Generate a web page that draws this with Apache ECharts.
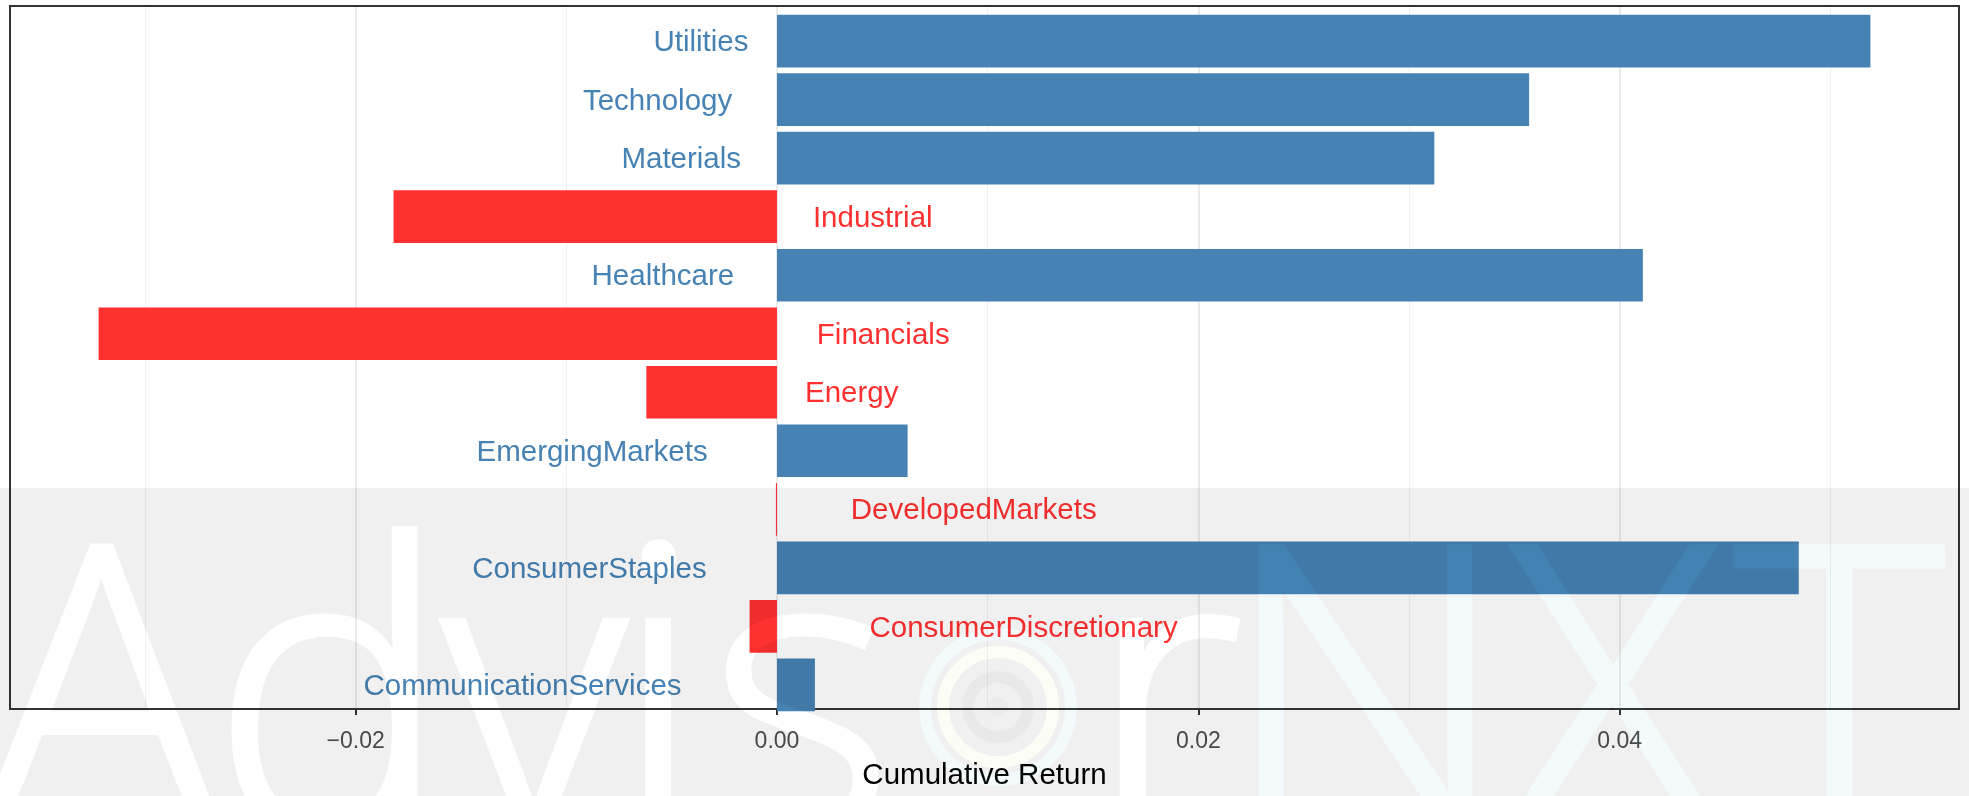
<!DOCTYPE html>
<html>
<head>
<meta charset="utf-8">
<script src="https://cdn.jsdelivr.net/npm/echarts@6/dist/echarts.min.js"></script>
<style>
html, body { margin: 0; padding: 0; background: #fff; }
#chart { width: 1969px; height: 796px; }
</style>
</head>
<body>
<div id="chart"></div>
<script>
// sectors, top to bottom
var sectors = ['Utilities', 'Technology', 'Materials', 'Industrial', 'Healthcare', 'Financials',
    'Energy', 'EmergingMarkets', 'DevelopedMarkets', 'ConsumerStaples', 'ConsumerDiscretionary',
    'CommunicationServices'];
var cumReturn = [0.0519, 0.0357, 0.0312, -0.0182, 0.0411, -0.0322,
    -0.0062, 0.0062, -0.00005, 0.0485, -0.0013, 0.0018];
var majorTicks = [-0.02, 0, 0.02, 0.04];
var minorTicks = [-0.03, -0.01, 0.01, 0.03, 0.05];
var xTitle = 'Cumulative Return';

var chartDom = document.getElementById('chart');
var myChart = echarts.init(chartDom);

var blue = '#4682B4';
var red = '#FF3030';
var labelFamily = '"Liberation Sans", Arial, sans-serif';

// ggplot style 5% expansion
var lo = Math.min(0, Math.min.apply(null, cumReturn));
var hi = Math.max(0, Math.max.apply(null, cumReturn));
var pad = (hi - lo) * 0.05;

// labels sit at hjust 1.3 from zero -> gap of 0.3 * text width
var ctx = document.createElement('canvas').getContext('2d');
ctx.font = '29.5px ' + labelFamily;
var barData = cumReturn.map(function (v, i) {
    var c = v >= 0 ? blue : red;
    return {
        value: v,
        itemStyle: { color: c },
        label: {
            position: v >= 0 ? 'left' : 'right',
            distance: 0.3 * ctx.measureText(sectors[i]).width,
            color: c
        }
    };
});

// panel 6..720, category band = 1/12.2 of it
var unit = 714 / 12.2;

// watermark: grey veil over the lower strip with the letters cut out of it
var bandTop = 488;
var markFont = '300 400px "Open Sans", sans-serif';
var baseY = 833 - bandTop;
// [glyph, ink centre x]
var plainGlyphs = [['A', 102], ['d', 324], ['v', 536], ['i', 660], ['s', 798], ['r', 1178]];
var tintGlyphs = [['N', 1365], ['X', 1611], ['T', 1841]];

function makeLayer() {
    var c = document.createElement('canvas');
    c.width = 1969;
    c.height = 796 - bandTop;
    var g = c.getContext('2d');
    g.font = markFont;
    g.textBaseline = 'alphabetic';
    g.lineWidth = 6;
    return { canvas: c, g: g };
}
function drawGlyphs(g, list) {
    list.forEach(function (t) {
        var m = g.measureText(t[0]);
        var x = t[1] - (m.actualBoundingBoxRight - m.actualBoundingBoxLeft) / 2;
        g.fillText(t[0], x, baseY);
        g.strokeText(t[0], x, baseY);
    });
}
function ring(g, r, width) {
    g.lineWidth = width;
    g.beginPath();
    g.arc(998, 707 - bandTop, r, 0, Math.PI * 2);
    g.stroke();
}

var veil = makeLayer();
var w = veil.g;
w.fillStyle = 'rgba(0,0,0,0.06)';
w.fillRect(0, 0, veil.canvas.width, veil.canvas.height);
w.globalCompositeOperation = 'destination-out';
w.fillStyle = '#000';
w.strokeStyle = '#000';
drawGlyphs(w, plainGlyphs.concat(tintGlyphs));
ring(w, 73, 12);
ring(w, 55, 12);
w.globalCompositeOperation = 'source-over';

// light cyan tint of NXT, drawn solid then laid on faintly
var nxt = makeLayer();
nxt.g.fillStyle = 'rgb(0,150,200)';
nxt.g.strokeStyle = 'rgb(0,150,200)';
drawGlyphs(nxt.g, tintGlyphs);
ring(nxt.g, 73, 12);
w.globalAlpha = 0.05;
w.drawImage(nxt.canvas, 0, 0);
w.globalAlpha = 1;
w.strokeStyle = 'rgba(170,210,0,0.04)';
ring(w, 55, 12);
w.strokeStyle = 'rgba(0,0,0,0.03)';
ring(w, 30, 12);
w.fillStyle = 'rgba(0,0,0,0.025)';
w.beginPath();
w.arc(998, 707 - bandTop, 10, 0, Math.PI * 2);
w.fill();

var option = {
    backgroundColor: '#fff',
    animation: false,
    grid: [
        { left: 10, right: 10, top: 6, bottom: 76, show: true, borderColor: '#333', borderWidth: 2 },
        { left: 10, right: 10, top: 6 + 0.1 * unit, bottom: 76 + 0.1 * unit }
    ],
    xAxis: [
        {
            gridIndex: 0,
            type: 'value',
            min: lo - pad,
            max: hi + pad,
            axisLine: { show: false },
            axisTick: { customValues: majorTicks, length: 6, lineStyle: { color: '#333', width: 2 } },
            axisLabel: {
                customValues: majorTicks,
                fontSize: 23,
                fontFamily: labelFamily,
                color: '#4D4D4D',
                margin: 21,
                formatter: function (v) {
                    return (v < 0 ? '\u2212' : '') + Math.abs(v).toFixed(2);
                }
            },
            splitLine: { show: true, lineStyle: { color: 'rgba(0,0,0,0.08)', width: 2 } },
            name: xTitle,
            nameLocation: 'middle',
            nameGap: 52,
            nameTextStyle: { fontSize: 29.5, fontFamily: labelFamily, color: '#000' }
        },
        {
            gridIndex: 1,
            type: 'value',
            min: lo - pad,
            max: hi + pad,
            show: false
        },
        {
            gridIndex: 0,
            type: 'value',
            min: lo - pad,
            max: hi + pad,
            axisLine: { show: false },
            axisTick: { show: false, customValues: minorTicks },
            axisLabel: { show: false, customValues: minorTicks },
            splitLine: { show: true, lineStyle: { color: 'rgba(0,0,0,0.06)', width: 1 } }
        }
    ],
    yAxis: [
        { gridIndex: 0, type: 'value', show: false, splitLine: { show: false } },
        {
            gridIndex: 1,
            type: 'category',
            inverse: true,
            data: sectors,
            show: false
        }
    ],
    graphic: [
        { type: 'image', z: 100, silent: true, style: { image: veil.canvas, x: 0, y: bandTop, width: veil.canvas.width, height: veil.canvas.height } }
    ],
    series: [
        {
            type: 'bar',
            xAxisIndex: 1,
            yAxisIndex: 1,
            barWidth: '90%',
            data: barData,
            label: {
                show: true,
                formatter: '{b}',
                fontSize: 29.5,
                fontFamily: labelFamily,
                offset: [0, 2]
            }
        }
    ]
};

option && myChart.setOption(option);
</script>
</body>
</html>
